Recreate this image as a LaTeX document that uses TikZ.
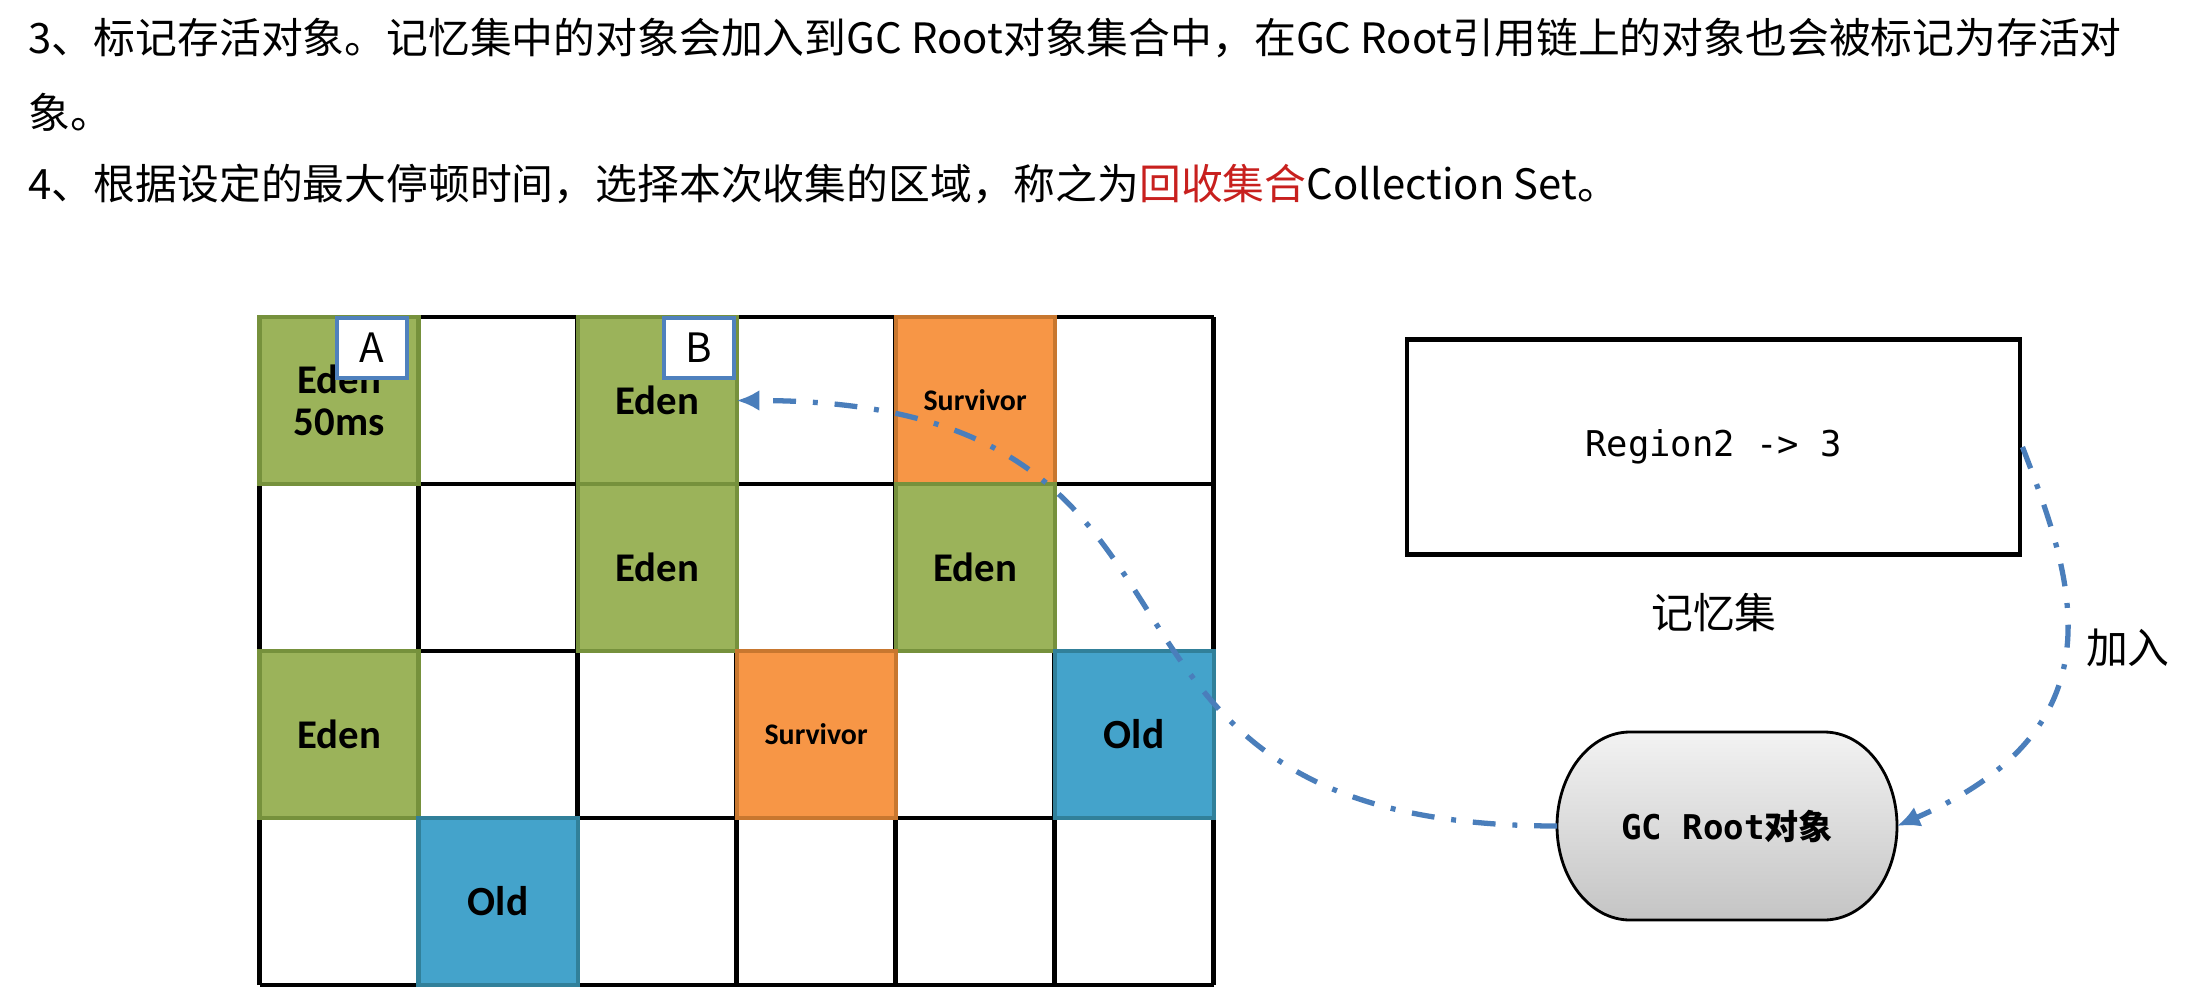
\documentclass[tikz,border=0pt]{standalone}
\usepackage{fontspec}
\setmainfont{Noto Sans CJK SC}
\newfontfamily\cellfont{Carlito}
\newfontfamily\codefont{DejaVu Sans Mono}
\usetikzlibrary{arrows.meta,backgrounds}

\definecolor{edenfill}{HTML}{9BB35A}
\definecolor{edenline}{HTML}{76913C}
\definecolor{survfill}{HTML}{F79646}
\definecolor{survline}{HTML}{C8772F}
\definecolor{oldfill}{HTML}{44A3CB}
\definecolor{oldline}{HTML}{31809A}
\definecolor{tagblue}{HTML}{4F81BD}
\definecolor{linkblue}{HTML}{4A7EBB}
\definecolor{hotred}{HTML}{C8201E}

\begin{document}
\begin{tikzpicture}

\tikzstyle{txt}=[anchor=west, inner sep=0pt, font=\fontsize{11.9}{14}\selectfont]
\tikzstyle{gridline}=[line width=1.4pt]
\tikzstyle{cell}=[rectangle, minimum width=1.59cm, minimum height=1.67cm, inner sep=0pt, outer sep=0pt, line width=1.2pt, align=center, font=\cellfont\bfseries\fontsize{11.6}{12}\selectfont]
\tikzstyle{eden}=[cell, fill=edenfill, draw=edenline]
\tikzstyle{survivor}=[cell, fill=survfill, draw=survline, font=\cellfont\bfseries\fontsize{8.5}{10}\selectfont]
\tikzstyle{old}=[cell, fill=oldfill, draw=oldline, font=\cellfont\bfseries\fontsize{11.8}{12}\selectfont]
\tikzstyle{tag}=[rectangle, draw=tagblue, fill=white, line width=1.1pt, minimum width=0.70cm, minimum height=0.60cm, inner sep=0pt, font=\fontsize{11.5}{12}\selectfont]
\tikzstyle{setbox}=[rectangle, draw, line width=1.4pt, minimum width=6.13cm, minimum height=2.15cm, font=\codefont\fontsize{10.1}{12}\selectfont]
\tikzstyle{note}=[font=\fontsize{11.9}{14}\selectfont]
\tikzstyle{rootnode}=[rectangle, minimum width=3.4cm, minimum height=1.88cm, inner sep=0pt, outer sep=0pt, font=\bfseries\fontsize{9.7}{12}\selectfont]
\tikzstyle{rootfill}=[draw=black, line width=0.8pt, top color=black!5, bottom color=black!23]
\tikzstyle{arrow}=[-{Latex[length=6.5pt,width=6pt]}, draw=linkblue, line width=1.5pt, dash pattern=on 6.5pt off 4.8pt on 1.4pt off 4.8pt]

\useasboundingbox (0,0) rectangle (22,-9.96);

\node (step3)  [txt] at (0.28,-0.38) {3、标记存活对象。记忆集中的对象会加入到GC Root对象集合中，在GC Root引用链上的对象也会被标记为存活对};
\node (step3b) [txt] at (0.28,-1.12) {象。};
\node (step4)  [txt] at (0.28,-1.84) {4、根据设定的最大停顿时间，选择本次收集的区域，称之为\textcolor{hotred}{回收集合}Collection Set。};

\draw [gridline, xstep=1.59cm, ystep=1.67cm, shift={(2.596cm,-9.85cm)}] (0,0) grid (9.541,6.681);

\node (edenA) [eden]     at (3.391,-4.005)  {Eden\\50ms};
\node (edenB) [eden]     at (6.571,-4.005)  {Eden};
\node (surv1) [survivor] at (9.751,-4.005)  {Survivor};
\node (eden3) [eden]     at (6.571,-5.675)  {Eden};
\node (eden4) [eden]     at (9.751,-5.675)  {Eden};
\node (eden5) [eden]     at (3.391,-7.345)  {Eden};
\node (surv2) [survivor] at (8.161,-7.345)  {Survivor};
\node (old1)  [old]      at (11.341,-7.345) {Old};
\node (old2)  [old]      at (4.981,-9.015)  {Old};

\node (tagA) [tag] at (3.72,-3.48) {A};
\node (tagB) [tag] at (6.99,-3.48) {B};

\node (remset)  [setbox] at (17.135,-4.47) {Region2 -> 3};
\node (remname) [note]   at (17.14,-6.13)  {记忆集};

\node (root) [rootnode] at (17.27,-8.26) {{\codefont GC Root}对象};
\begin{scope}[on background layer]
\draw [rootfill] ([xshift=0.73cm]root.north west) -- ([xshift=-0.73cm]root.north east)
      arc [start angle=90, end angle=-90, x radius=0.73cm, y radius=0.94cm]
      -- ([xshift=0.73cm]root.south west)
      arc [start angle=270, end angle=90, x radius=0.73cm, y radius=0.94cm] -- cycle;
\end{scope}

\draw [arrow] (root.west) .. controls +(-5.4,0) and +(5.4,0) .. (edenB.east);
\draw [arrow] (remset.east) .. controls +(0.5,-1.3) and +(2.3,1.0) .. node [pos=0.5, right=2pt, black, font=\fontsize{11.9}{14}\selectfont] {加入} (root.east);

\end{tikzpicture}
\end{document}
